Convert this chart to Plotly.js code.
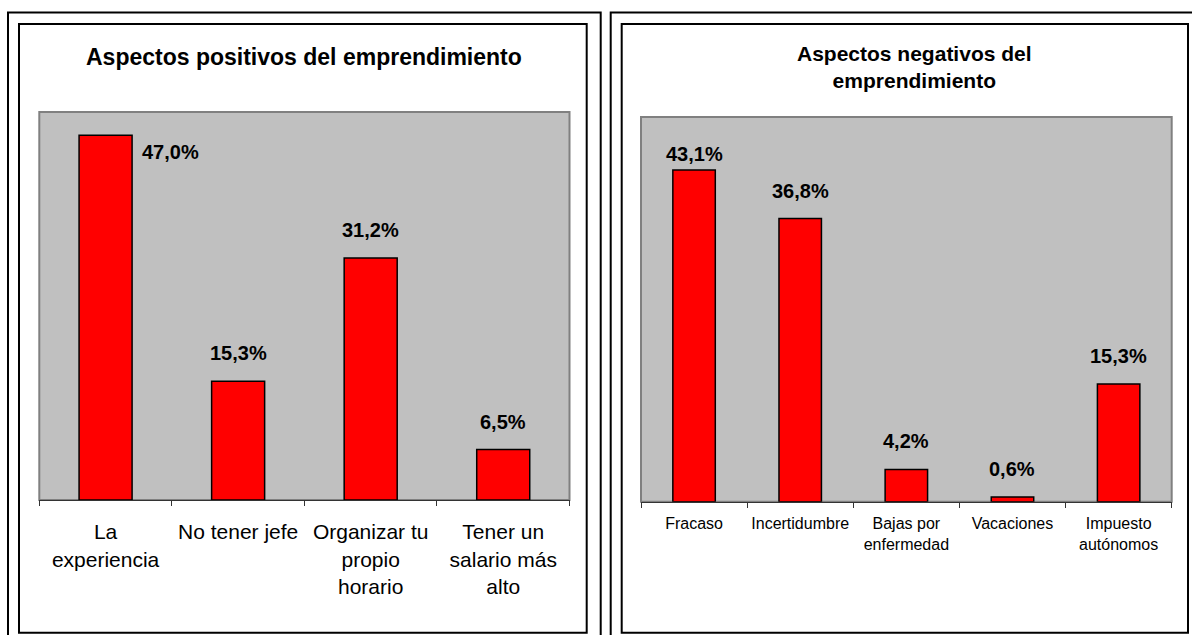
<!DOCTYPE html>
<html>
<head>
<meta charset="utf-8">
<script src="https://cdn.plot.ly/plotly-3.0.1.min.js"></script>
<style>html,body{margin:0;padding:0;background:#fff;}#chart{width:1192px;height:635px;}</style>
</head>
<body>
<div id="chart"></div>
<script>
// ---- data ----
const posTitle = "Aspectos positivos del emprendimiento";
const posCategories = ["La<br>experiencia", "No tener jefe", "Organizar tu<br>propio<br>horario", "Tener un<br>salario más<br>alto"];
const posValues = [47.0, 15.3, 31.2, 6.5];

const negTitle = "Aspectos negativos del<br>emprendimiento";
const negCategories = ["Fracaso", "Incertidumbre", "Bajas por<br>enfermedad", "Vacaciones", "Impuesto<br>autónomos"];
const negValues = [43.1, 36.8, 4.2, 0.6, 15.3];

// ---- helpers ----
const W = 1192, H = 635;
const FONT = "Liberation Sans, Arial, sans-serif";
const px = v => v / W;
const py = v => 1 - v / H;
const fmt = v => v.toFixed(1).replace('.', ',') + '%';

function barTrace(cats, vals, xa, ya) {
  return {
    type: 'bar', x: cats, y: vals, xaxis: xa, yaxis: ya,
    width: 0.4,
    marker: {color: '#ff0000', line: {color: '#000000', width: 1.5}},
    hoverinfo: 'skip', showlegend: false
  };
}

function labels(cats, vals, xa, ya, special) {
  return cats.map((c, i) => {
    const a = {
      x: c, y: vals[i], xref: xa, yref: ya, text: '<b>' + fmt(vals[i]) + '</b>',
      showarrow: false, xanchor: 'center', yanchor: 'bottom', yshift: 15,
      font: {family: FONT, size: 20, color: '#000'}
    };
    if (special[i]) Object.assign(a, special[i]);
    return a;
  });
}

const traces = [
  barTrace(posCategories, posValues, 'x', 'y'),
  barTrace(negCategories, negValues, 'x2', 'y2')
];

const axisCommon = {
  type: 'category', showline: true, linecolor: '#333', linewidth: 1,
  ticks: 'outside', tickson: 'boundaries', ticklen: 5, tickcolor: '#333', tickwidth: 1,
  tickangle: 0, automargin: false,
  showgrid: false, zeroline: false, fixedrange: true
};
const yCommon = {range: [0, 50], visible: false, showgrid: false, zeroline: false, fixedrange: true};

const borderRect = (xr, yr) => ({
  type: 'rect', xref: xr + ' domain', yref: yr + ' domain', x0: 0, x1: 1, y0: 0, y1: 1,
  line: {color: '#808080', width: 2}, layer: 'below'
});
const frame = (x0, x1, y0, y1) => ({
  type: 'rect', xref: 'paper', yref: 'paper', x0: px(x0), x1: px(x1), y0: py(y1), y1: py(y0),
  line: {color: '#000', width: 2}
});

const layout = {
  width: W, height: H,
  margin: {l: 0, r: 0, t: 0, b: 0},
  paper_bgcolor: '#ffffff', plot_bgcolor: '#c0c0c0',
  bargap: 0.6,
  xaxis: Object.assign({}, axisCommon, {domain: [px(39.3), px(569.5)], anchor: 'y',
    ticklabelstandoff: 13,
    tickfont: {family: FONT, size: 21, color: '#000'}}),
  yaxis: Object.assign({}, yCommon, {domain: [1 - 500 / H, 1 - 112 / H], anchor: 'x'}),
  xaxis2: Object.assign({}, axisCommon, {domain: [px(641), px(1171.7)], anchor: 'y2',
    ticklabelstandoff: 7,
    tickfont: {family: FONT, size: 16, color: '#000'}}),
  yaxis2: Object.assign({}, yCommon, {domain: [1 - 501.7 / H, 1 - 117 / H], anchor: 'x2'}),
  shapes: [
    borderRect('x', 'y'), borderRect('x2', 'y2'),
    frame(8, 600.7, 12.5, 640), frame(19, 586.7, 24, 632.7),
    frame(610.7, 1198, 12.5, 640), frame(621.7, 1188, 24, 632.7)
  ],
  annotations: [
    {text: '<b>' + posTitle + '</b>', xref: 'paper', yref: 'paper', x: px(303.5), y: py(57),
      xanchor: 'center', yanchor: 'middle', showarrow: false,
      font: {family: FONT, size: 23, color: '#000'}},
    {text: '<b>' + negTitle + '</b>', xref: 'paper', yref: 'paper', x: px(914), y: py(67),
      xanchor: 'center', yanchor: 'middle', showarrow: false,
      font: {family: FONT, size: 21, color: '#000'}}
  ].concat(
    labels(posCategories, posValues, 'x', 'y', {0: {xanchor: 'left', yanchor: 'top', xshift: 34, yshift: -4}}),
    labels(negCategories, negValues, 'x2', 'y2', {0: {yshift: 3}})
  )
};

Plotly.newPlot('chart', traces, layout, {staticPlot: true, displayModeBar: false});
</script>
</body>
</html>
